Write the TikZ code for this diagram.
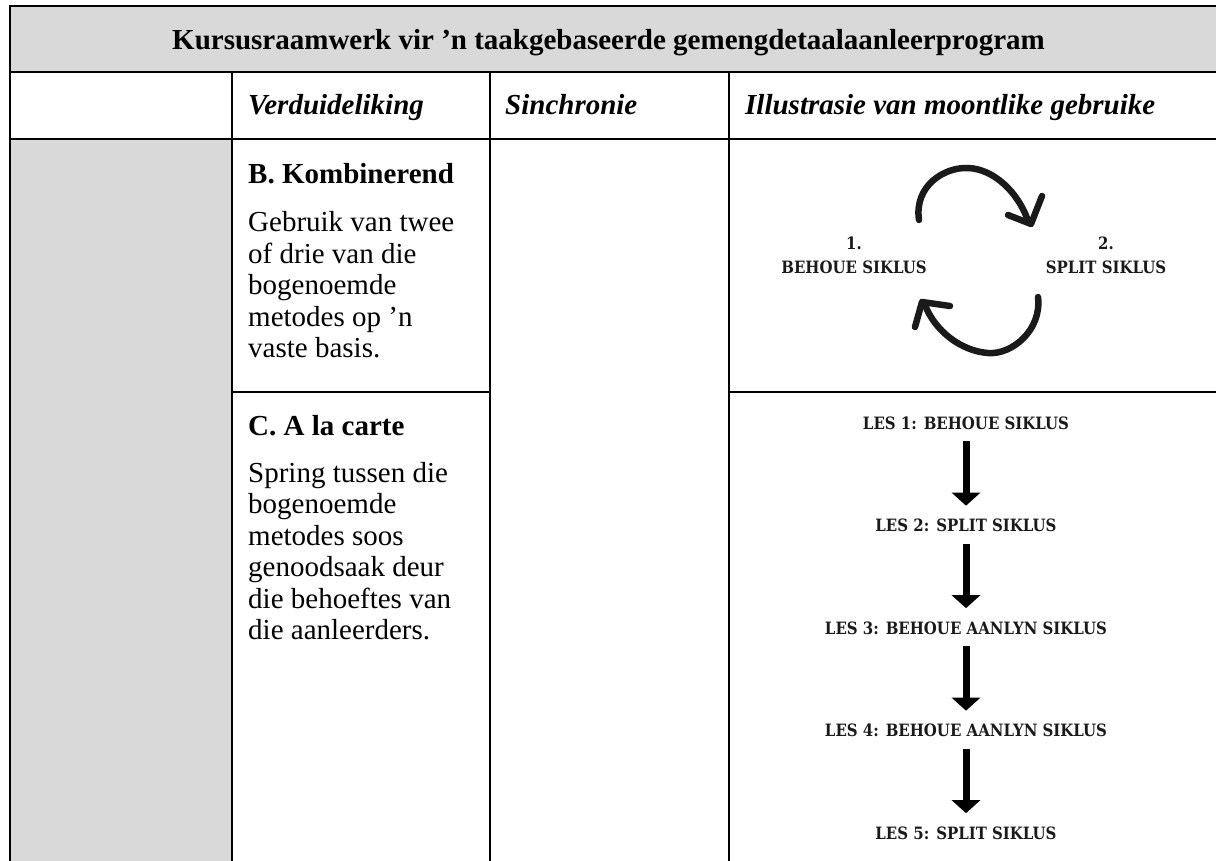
\documentclass[tikz,border=0pt]{standalone}
\usepackage{fontspec}
\setmainfont{Liberation Serif}
\newfontfamily\slab[FakeStretch=0.88]{DejaVu Serif}
\usetikzlibrary{arrows.meta}
\definecolor{cellgray}{HTML}{D9D9D9}
\definecolor{ink}{HTML}{1A1A1A}
\begin{document}
\begin{tikzpicture}[x=1pt,y=-1pt,
  rule/.style={line width=2pt},
  txt/.style={anchor=base west, inner sep=0pt, font=\fontsize{29}{31.5}\selectfont},
  headtxt/.style={txt, font=\fontsize{29}{31.5}\selectfont\bfseries\itshape},
  subhead/.style={txt, font=\fontsize{29}{31.5}\selectfont\bfseries},
  lbl/.style={anchor=base, inner sep=0pt, font=\slab\bfseries\fontsize{17}{24}\selectfont, align=center, text=ink},
  brush/.style={line width=6.5pt, line cap=round, line join=round, draw=ink},
  downarrow/.style={line width=7pt, -{Triangle[width=28pt,length=13pt]}, draw=black, shorten <=12pt, shorten >=13pt}
]
\useasboundingbox (0,0) rectangle (1216,861);
% fills
\fill[cellgray] (10,6) rectangle (1216,72);
\fill[cellgray] (10,139) rectangle (232,861);
% rules
\draw[rule] (10,6) -- (1216,6);
\draw[rule] (10,72) -- (1216,72);
\draw[rule] (10,139) -- (1216,139);
\draw[rule] (232,392) -- (490,392);
\draw[rule] (729,392) -- (1216,392);
\draw[rule] (10,5) -- (10,861);
\draw[rule] (232,72) -- (232,861);
\draw[rule] (490,72) -- (490,861);
\draw[rule] (729,72) -- (729,861);
% title
\node[anchor=base, inner sep=0pt, font=\fontsize{29}{31.5}\selectfont\bfseries] (title) at (608.5,50)
  {Kursusraamwerk vir ’n taakgebaseerde gemengdetaalaanleerprogram};
% header row
\node[headtxt] (h2) at (248,115) {Verduideliking};
\node[headtxt] (h3) at (505,115) {Sinchronie};
\node[headtxt] (h4) at (745,115) {Illustrasie van moontlike gebruike};
% row B
\node[subhead] (bhead) at (248,184) {B. Kombinerend};
\node[txt] (bbody) at (248,232) {\parbox[t]{235pt}{\fontsize{29}{31.5}\selectfont\raggedright
  Gebruik van twee\\of drie van die\\bogenoemde\\metodes op ’n\\vaste basis.}};
% row C
\node[subhead] (chead) at (248,435) {C. A la carte};
\node[txt] (cbody) at (248,482) {\parbox[t]{235pt}{\fontsize{29}{31.5}\selectfont\raggedright
  Spring tussen die\\bogenoemde\\metodes soos\\genoodsaak deur\\die behoeftes van\\die aanleerders.}};
% cycle diagram
\node[lbl] (c1) at (854,273) {1.\\BEHOUE SIKLUS};
\node[lbl] (c2) at (1106,273) {2.\\SPLIT SIKLUS};
\draw[brush] (919,220) .. controls (914,186) and (944,167) .. (968,168) .. controls (994,169) and (1017,192) .. (1027,218);
\draw[brush] (1008,215) -- (1031,224) -- (1042,196);
\draw[brush] (1038,297) .. controls (1042,330) and (1012,355) .. (988,353) .. controls (961,351) and (935,331) .. (925,305);
\draw[brush] (950,306) -- (922,302) -- (915,327);
% lesson list
\node[lbl] (l1) at (966,429) {LES 1: BEHOUE SIKLUS};
\node[lbl] (l2) at (966,531.5) {LES 2: SPLIT SIKLUS};
\node[lbl] (l3) at (966,634) {LES 3: BEHOUE AANLYN SIKLUS};
\node[lbl] (l4) at (966,736.5) {LES 4: BEHOUE AANLYN SIKLUS};
\node[lbl] (l5) at (966,839) {LES 5: SPLIT SIKLUS};
\draw[downarrow] (l1) -- (l2);
\draw[downarrow] (l2) -- (l3);
\draw[downarrow] (l3) -- (l4);
\draw[downarrow] (l4) -- (l5);
\end{tikzpicture}
\end{document}
